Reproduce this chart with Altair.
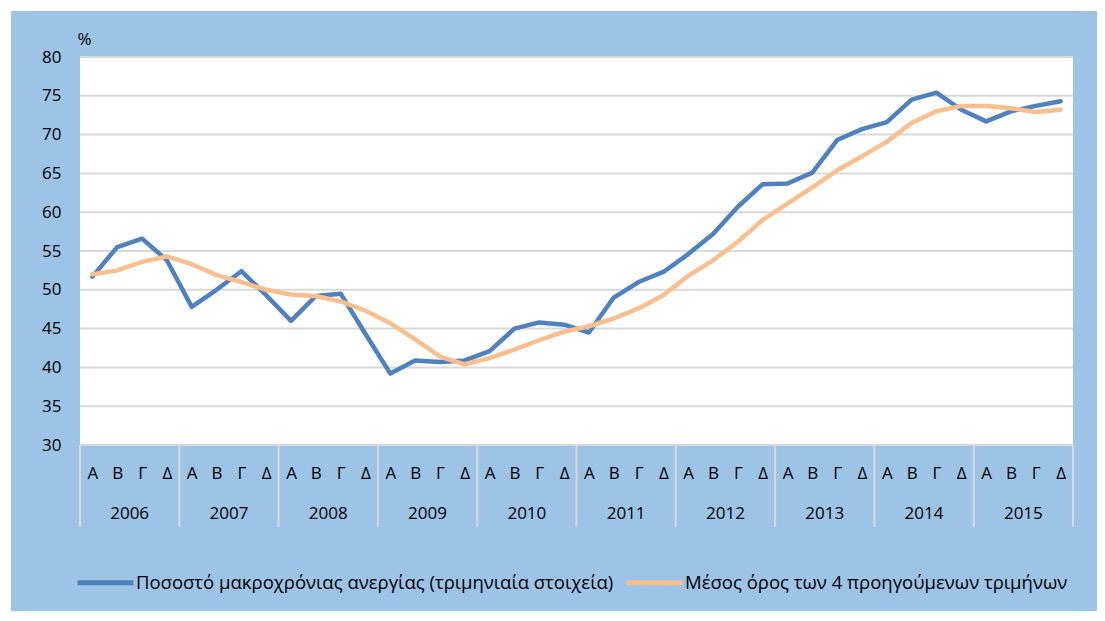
import altair as alt
import pandas as pd

# ---- data ----
years = [2006, 2007, 2008, 2009, 2010, 2011, 2012, 2013, 2014, 2015]
quarters = ["Α", "Β", "Γ", "Δ"]

long_term_rate = [
    51.7, 55.5, 56.6, 53.8,
    47.8, 50.0, 52.4, 49.3,
    46.0, 49.2, 49.5, 44.3,
    39.2, 40.9, 40.7, 40.9,
    42.1, 45.0, 45.8, 45.5,
    44.5, 49.0, 51.0, 52.3,
    54.6, 57.2, 60.7, 63.6,
    63.7, 65.1, 69.3, 70.7,
    71.6, 74.5, 75.4, 73.2,
    71.7, 73.0, 73.7, 74.3,
]
moving_avg = [
    52.0, 52.5, 53.6, 54.3,
    53.3, 51.9, 51.0, 50.0,
    49.4, 49.2, 48.5, 47.3,
    45.7, 43.6, 41.4, 40.4,
    41.2, 42.3, 43.5, 44.6,
    45.3, 46.3, 47.6, 49.3,
    51.8, 53.8, 56.2, 59.0,
    61.1, 63.2, 65.4, 67.2,
    69.1, 71.5, 73.0, 73.7,
    73.7, 73.4, 72.9, 73.2,
]
series_names = [
    "Ποσοστό μακροχρόνιας ανεργίας (τριμηνιαία στοιχεία)",
    "Μέσος όρος των 4 προηγούμενων τριμήνων",
]
series_colors = ["#4F81BD", "#F9BF8F"]
y_ticks = [30, 35, 40, 45, 50, 55, 60, 65, 70, 75, 80]

# ---- tables ----
n = len(long_term_rate)
lines_df = pd.DataFrame(
    {
        "idx": list(range(n)) * 2,
        "value": long_term_rate + moving_avg,
        "series": [series_names[0]] * n + [series_names[1]] * n,
    }
)
year_df = pd.DataFrame({"idx": [4 * i + 1.5 for i in range(len(years))],
                        "year": [str(y) for y in years]})
sep_df = pd.DataFrame({"idx": [4 * i - 0.5 for i in range(len(years) + 1)]})
grid_df = pd.DataFrame({"value": y_ticks})
one = pd.DataFrame({"a": [0]})

W, H = 993, 388
FONT = "Open Sans"
BG = "#9DC3E6"
GRID = "#D9D9D9"

quarter_expr = "['" + "','".join(quarters) + "'][datum.value % 4]"

xscale = alt.Scale(domain=[-0.5, n - 0.5], nice=False, zero=False)
yscale = alt.Scale(domain=[30, 80], nice=False, zero=False)

x_axis = alt.Axis(
    title=None,
    values=list(range(n)),
    labelExpr=quarter_expr,
    grid=False,
    ticks=False,
    tickSize=0,
    domain=False,
    labelFont=FONT,
    labelFontSize=17,
    labelColor="black",
    labelBaseline="middle",
    labelPadding=28,
    labelFlush=False,
    labelOverlap=False,
    labelBound=False,
    zindex=1,
)
y_axis = alt.Axis(
    values=y_ticks,
    title="%",
    titleAngle=0,
    titleAlign="left",
    titleBaseline="middle",
    titleX=-3,
    titleY=-18,
    titleFont=FONT,
    titleFontSize=17,
    titleFontWeight="normal",
    titleColor="black",
    grid=False,
    ticks=False,
    tickSize=0,
    domain=False,
    labelFont=FONT,
    labelFontSize=17,
    labelColor="black",
    labelPadding=19,
    labelBaseline="middle",
    labelOverlap=False,
    labelFlush=False,
    zindex=1,
)

X = alt.X("idx:Q", scale=xscale, axis=x_axis)
Y = alt.Y("value:Q", scale=yscale, axis=y_axis)

bg = alt.Chart(one).mark_rect(color=BG).encode(
    x=alt.value(-69), x2=alt.value(1100), y=alt.value(-46), y2=alt.value(600)
)
plot_bg = alt.Chart(one).mark_rect(color="white").encode(
    x=alt.value(0), x2=alt.value(W), y=alt.value(0), y2=alt.value(H)
)
grid = alt.Chart(grid_df).mark_rule(color=GRID, strokeWidth=2).encode(
    y=Y, x=alt.value(0), x2=alt.value(W)
)
seps = alt.Chart(sep_df).mark_rule(color=GRID, strokeWidth=2).encode(
    x=X, y=alt.value(H), y2=alt.value(H + 82)
)
year_text = alt.Chart(year_df).mark_text(
    font=FONT, fontSize=17, color="black", baseline="middle", align="center"
).encode(x=X, y=alt.value(H + 69), text="year:N")

lines = alt.Chart(lines_df).mark_line(
    strokeWidth=4.5, strokeJoin="round", strokeCap="round"
).encode(
    x=X,
    y=Y,
    color=alt.Color(
        "series:N",
        scale=alt.Scale(domain=series_names, range=series_colors),
        sort=series_names,
        legend=alt.Legend(
            title=None,
            orient="none",
            legendX=-5,
            legendY=495,
            padding=0,
            direction="horizontal",
            symbolType="stroke",
            symbolSize=3136,
            symbolStrokeWidth=5,
            labelFont=FONT,
            labelFontSize=18.5,
            labelColor="black",
            labelOffset=0,
            columnPadding=2,
            labelLimit=700,
            zindex=1,
        ),
    ),
)

chart = (
    alt.layer(bg, plot_bg, grid, seps, year_text, lines)
    .properties(
        width=W,
        height=H,
        padding={"left": 72, "top": 49, "right": 24, "bottom": 166},
        autosize=alt.AutoSizeParams(type="none"),
        background="white",
    )
    .configure_view(stroke=None)
)

chart.save("out.html", embed_options={"renderer": "svg", "actions": False})
